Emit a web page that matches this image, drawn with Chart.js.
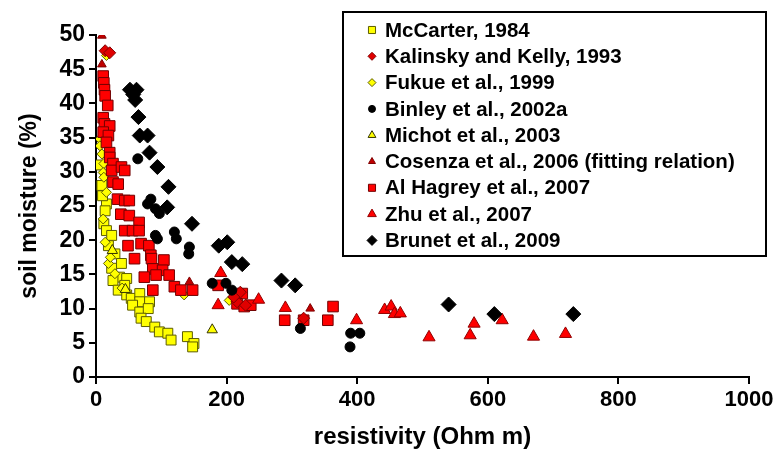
<!DOCTYPE html>
<html>
<head>
<meta charset="utf-8">
<script src="https://cdn.jsdelivr.net/npm/chart.js@4/dist/chart.umd.min.js"></script>
<style>
  html, body { margin: 0; padding: 0; background: #fff; }
  #wrap { width: 774px; height: 456px; }
</style>
</head>
<body>
<div id="wrap"><canvas id="chart" width="774" height="456"></canvas></div>
<script>
// values: [resistivity (Ohm m), soil moisture (%)]
const xTicks = [0, 200, 400, 600, 800, 1000];
const yTicks = [0, 5, 10, 15, 20, 25, 30, 35, 40, 45, 50];

const mcCarter = [[9,28],[16,25.3],[14,24.3],[12,22.4],[16,21.4],[24,20.7],[19,19.2],[29,18],[24,15.9],
  [39,16.6],[36,14.6],[47,14.4],[26,14.1],[44,13.4],[34,12.7],[47,12],[54,11.5],[67,12.2],[67,11],
  [82,11],[56,10.5],[67,9.5],[80,10],[69,8.6],[77,8.1],[90,7.3],[97,6.6],[110,6.4],[115,5.4],
  [140,5.9],[150,4.9],[148,4.4],[6,31],[10,26.5]];
const kalinsky = [[14,47.7],[21,47.4],[221,12.4],[216,11],[229,10.5],[211,11.7],[318,8.6]];
const fukue = [[16,47],[6,34.8],[6,33.8],[9,32.6],[12,31.2],[11,29.9],[12,29.2],[16,27],[11,23.1],
  [14,19.7],[19,16.6],[29,15.1],[135,12],[204,11.2],[22,17.5],[40,13]];
const binley = [[64,31.9],[84,26],[79,25.3],[91,24.6],[97,23.9],[91,20.7],[94,20.2],[120,21.2],
  [123,20.2],[143,19],[142,18],[178,13.7],[199,13.7],[208,12.7],[313,7.1],[390,6.4],[404,6.4],[389,4.4]];
const michot = [[178,6.9],[25,18.5],[45,12.8]];
const cosenza = [[9,49.9],[9,45.7],[143,13.9],[328,10]];
const alHagrey = [[11,44],[12,43],[13,42],[14,41.1],[18,39.7],[11,37.9],[13,37],[21,36.7],[11,35.8],
  [19,35.3],[16,34.3],[21,32.8],[21,32.1],[26,31.2],[24,30.2],[39,30.7],[44,30.2],[26,28.5],[34,28.2],
  [33,26],[44,25.8],[51,25.8],[38,23.8],[51,23.6],[66,22.6],[44,21.4],[56,21.4],[66,21.4],[49,19.2],
  [69,19.5],[81,19.2],[84,17.8],[59,17.3],[104,17.1],[85,17.3],[87,15.8],[102,15.6],[112,14.9],[74,14.6],
  [92,14.9],[120,13.2],[130,12.7],[87,12.7],[148,12.7],[187,13.4],[224,12.2],[216,10.7],[227,10.3],
  [237,10.5],[289,8.3],[318,8.3],[363,10.3],[355,8.3]];
const zhu = [[191,15.2],[187,10.5],[249,11.3],[290,10.1],[399,8.3],[442,9.8],[452,10.3],[457,9.2],
  [466,9.3],[510,5.8],[579,7.8],[573,6.1],[622,8.3],[670,5.9],[719,6.3]];
const brunet = [[52,42],[57,41.3],[62,42],[60,40.5],[65,38],[67,35.3],[79,35.3],[82,32.8],[94,30.7],
  [111,27.8],[109,24.8],[147,22.4],[188,19.2],[201,19.7],[208,16.8],[224,16.5],[284,14.1],[305,13.4],
  [540,10.6],[610,9.2],[731,9.2]];

const series = [
  { label: 'McCarter, 1984', data: mcCarter, style: 'rect', r: 7, bg: '#ffff00', bd: '#5c5c00', lr: 5 },
  { label: 'Kalinsky and Kelly, 1993', data: kalinsky, style: 'rectRot', r: 6, bg: '#e00000', bd: '#800000', lr: 4 },
  { label: 'Fukue et al., 1999', data: fukue, style: 'rectRot', r: 5, bg: '#ffff00', bd: '#5c5c00', lr: 4 },
  { label: 'Binley et al., 2002a', data: binley, style: 'circle', r: 5, bg: '#000000', bd: '#000000', lr: 3.5 },
  { label: 'Michot et al., 2003', data: michot, style: 'triangle', r: 6, bg: '#ffff00', bd: '#333300', lr: 4.5 },
  { label: 'Cosenza et al., 2006 (fitting relation)', data: cosenza, style: 'triangle', r: 5, bg: '#c00000', bd: '#800000', lr: 4 },
  { label: 'Al Hagrey et al., 2007', data: alHagrey, style: 'rect', r: 7.5, bg: '#ff0000', bd: '#700000', lr: 5 },
  { label: 'Zhu et al., 2007', data: zhu, style: 'triangle', r: 7, bg: '#ff0000', bd: '#900000', lr: 5 },
  { label: 'Brunet et al., 2009', data: brunet, style: 'rectRot', r: 7.5, bg: '#000000', bd: '#000000', lr: 5 }
];

const drawOrder = [9, 5, 8, 3, 4, 6, 7, 2, 1]; // lower = drawn on top

// drawPoint uses the ctx fill/stroke styles, so set them first
function legendMarker(ctx, s, x, y) {
  ctx.fillStyle = s.bg;
  ctx.strokeStyle = s.bd;
  ctx.lineWidth = 1;
  Chart.helpers.drawPoint(ctx, { pointStyle: s.style, radius: s.lr, rotation: 0, borderWidth: 1 }, x, y);
}

const legendBox = {
  id: 'legendBox',
  afterDraw(chart) {
    const ctx = chart.ctx;
    ctx.save();
    ctx.strokeStyle = '#000';
    ctx.lineWidth = 2;
    ctx.strokeRect(343, 12, 423, 244);
    ctx.font = 'bold 20.5px "Liberation Sans", Arial, sans-serif';
    ctx.textBaseline = 'middle';
    series.forEach((s, i) => {
      const y = 30 + i * 26.3;
      legendMarker(ctx, s, 372, y);
      ctx.fillStyle = '#000';
      ctx.fillText(s.label, 385, y + 1);
    });
    ctx.restore();
  }
};

new Chart(document.getElementById('chart'), {
  type: 'scatter',
  data: {
    datasets: series.map((s, i) => ({
      label: s.label,
      data: s.data.map(p => ({ x: p[0], y: p[1] })),
      pointStyle: s.style,
      pointRadius: s.r,
      pointHoverRadius: s.r,
      backgroundColor: s.bg,
      borderColor: s.bd,
      borderWidth: 1,
      order: drawOrder[i]
    }))
  },
  options: {
    responsive: false,
    animation: false,
    layout: { padding: { top: 35, right: 25, left: 0, bottom: 0 } },
    plugins: { legend: { display: false }, tooltip: { enabled: false } },
    scales: {
      x: {
        type: 'linear', min: 0, max: 1000,
        afterBuildTicks: s => { s.ticks = xTicks.map(v => ({ value: v })); },
        afterFit: s => { s.height = 79; s.paddingLeft = 0; s.paddingRight = 0; },
        grid: { display: true, drawOnChartArea: false, drawTicks: true, tickLength: 7, color: '#000', lineWidth: 2 },
        border: { color: '#000', width: 2 },
        ticks: { color: '#000', padding: 5, maxRotation: 0, callback: v => String(v),
          font: { family: '"Liberation Sans Narrow", "Arial Narrow", "Liberation Sans", sans-serif', weight: 'bold', size: 22, lineHeight: 1 } },
        title: { display: true, text: 'resistivity (Ohm m)', color: '#000', padding: { top: 0, bottom: 4 },
          font: { family: '"Liberation Sans", Arial, sans-serif', weight: 'bold', size: 24, lineHeight: 1.2 } }
      },
      y: {
        type: 'linear', min: 0, max: 50,
        afterBuildTicks: s => { s.ticks = yTicks.map(v => ({ value: v })); },
        afterFit: s => { s.width = 96; },
        grid: { display: true, drawOnChartArea: false, drawTicks: true, tickLength: 7, color: '#000', lineWidth: 2 },
        border: { color: '#000', width: 2 },
        ticks: { color: '#000', padding: 4,
          font: { family: '"Liberation Sans", Arial, sans-serif', weight: 'bold', size: 23, lineHeight: 1 } },
        title: { display: true, text: 'soil moisture (%)', color: '#000', padding: { top: 16, bottom: 0 },
          font: { family: '"Liberation Sans", Arial, sans-serif', weight: 'bold', size: 23, lineHeight: 1.2 } }
      }
    }
  },
  plugins: [legendBox]
});
</script>
</body>
</html>
